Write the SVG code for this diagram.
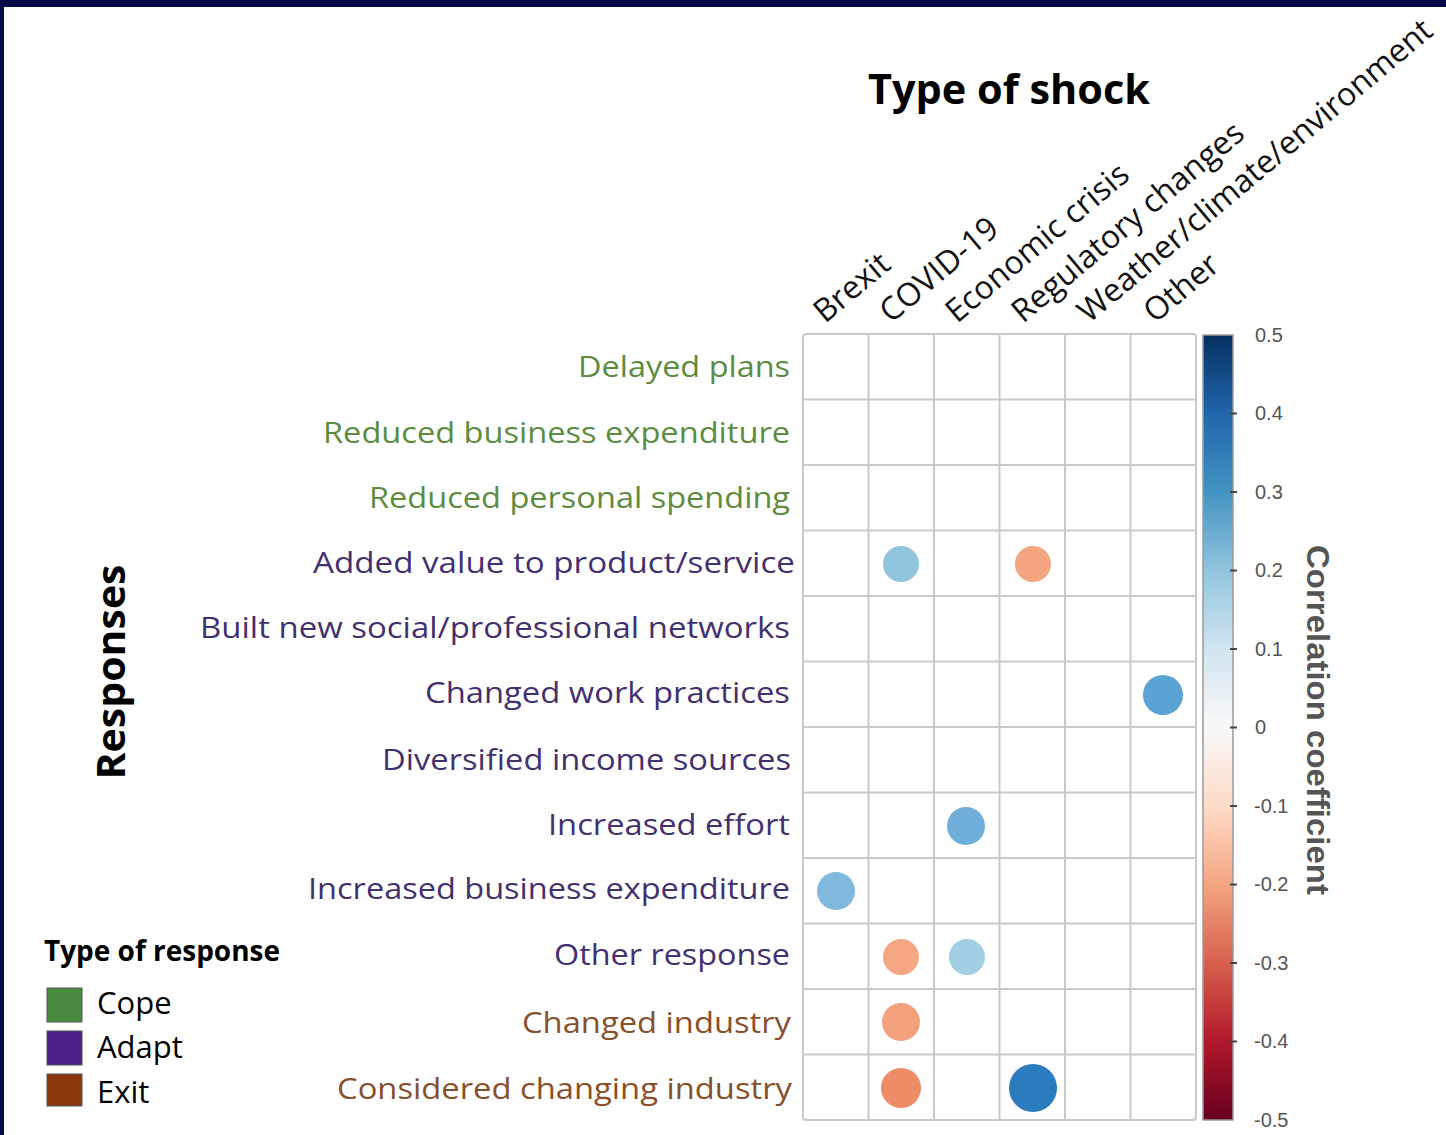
<svg xmlns="http://www.w3.org/2000/svg" width="1446" height="1135" viewBox="0 0 1446 1135">
<defs>
<linearGradient id="rdbu" x1="0" y1="0" x2="0" y2="1">
<stop offset="0" stop-color="#053061"/>
<stop offset="0.1" stop-color="#2166ac"/>
<stop offset="0.2" stop-color="#4393c3"/>
<stop offset="0.3" stop-color="#92c5de"/>
<stop offset="0.4" stop-color="#d1e5f0"/>
<stop offset="0.5" stop-color="#f9f9f9"/>
<stop offset="0.6" stop-color="#fddbc7"/>
<stop offset="0.7" stop-color="#f4a582"/>
<stop offset="0.8" stop-color="#d6604d"/>
<stop offset="0.9" stop-color="#b2182b"/>
<stop offset="1" stop-color="#67001f"/>
</linearGradient>
<style>
.lbl{font-family:"Open Sans","Liberation Sans",sans-serif;font-size:30px;text-anchor:end}
.cope{fill:#5b8c3f}
.adapt{fill:#43306f}
.exit{fill:#87502a}
.col{font-family:"Open Sans","Liberation Sans",sans-serif;font-size:32px;fill:#111}
.grid{stroke:#c9c9c9;stroke-width:2;fill:none}
.tick{font-family:"Liberation Sans",Arial,sans-serif;font-size:20px;fill:#555}
.tk{stroke:#444;stroke-width:2}
.ttl{font-family:"Open Sans","Liberation Sans",sans-serif;font-weight:bold;fill:#000}
.leg{font-family:"Open Sans","Liberation Sans",sans-serif;font-size:31px;fill:#000}
</style>
</defs>
<rect x="0" y="0" width="1446" height="1135" fill="#ffffff"/>
<rect x="0" y="0" width="1446" height="7" fill="#020a48"/>
<rect x="0" y="0" width="4" height="1135" fill="#020a48"/>

<g id="title"><text class="ttl" x="868" y="104" font-size="41" textLength="282" lengthAdjust="spacingAndGlyphs">Type of shock</text></g>
<g id="axis-responses"><text class="ttl" font-size="40" transform="translate(125,672) rotate(-90)" text-anchor="middle" textLength="215" lengthAdjust="spacingAndGlyphs">Responses</text></g>

<g id="column-labels">
<text class="col" transform="translate(825,324) rotate(-40)">Brexit</text>
<text class="col" transform="translate(891,324) rotate(-40)">COVID-19</text>
<text class="col" transform="translate(957,324) rotate(-40)">Economic crisis</text>
<text class="col" transform="translate(1023,324) rotate(-40)">Regulatory changes</text>
<text class="col" transform="translate(1089,324) rotate(-40)">Weather/climate/environment</text>
<text class="col" transform="translate(1155,324) rotate(-40)">Other</text>
</g>

<g id="row-labels">
<text class="lbl cope" x="790" y="377" textLength="212" lengthAdjust="spacingAndGlyphs">Delayed plans</text>
<text class="lbl cope" x="790" y="443" textLength="467" lengthAdjust="spacingAndGlyphs">Reduced business expenditure</text>
<text class="lbl cope" x="790" y="508" textLength="421" lengthAdjust="spacingAndGlyphs">Reduced personal spending</text>
<text class="lbl adapt" x="795" y="573" textLength="482" lengthAdjust="spacingAndGlyphs">Added value to product/service</text>
<text class="lbl adapt" x="790" y="638" textLength="590" lengthAdjust="spacingAndGlyphs">Built new social/professional networks</text>
<text class="lbl adapt" x="790" y="703" textLength="365" lengthAdjust="spacingAndGlyphs">Changed work practices</text>
<text class="lbl adapt" x="791" y="770" textLength="409" lengthAdjust="spacingAndGlyphs">Diversified income sources</text>
<text class="lbl adapt" x="790" y="835" textLength="242" lengthAdjust="spacingAndGlyphs">Increased effort</text>
<text class="lbl adapt" x="790" y="899" textLength="482" lengthAdjust="spacingAndGlyphs">Increased business expenditure</text>
<text class="lbl adapt" x="790" y="965" textLength="236" lengthAdjust="spacingAndGlyphs">Other response</text>
<text class="lbl exit" x="791" y="1033" textLength="269" lengthAdjust="spacingAndGlyphs">Changed industry</text>
<text class="lbl exit" x="792" y="1099" textLength="455" lengthAdjust="spacingAndGlyphs">Considered changing industry</text>
</g>

<g id="grid">
<rect class="grid" x="803" y="334" width="393" height="786" rx="3"/>
<path class="grid" d="M868.5 334V1120M934 334V1120M999.5 334V1120M1065 334V1120M1130.5 334V1120"/>
<path class="grid" d="M803 399.5H1196M803 465H1196M803 530.5H1196M803 596H1196M803 661.5H1196M803 727H1196M803 792.5H1196M803 858H1196M803 923.5H1196M803 989H1196M803 1054.5H1196"/>
</g>

<g id="circles">
<circle cx="901" cy="564" r="18" fill="#92c5de"/>
<circle cx="1033" cy="564" r="18" fill="#f4a582"/>
<circle cx="1163" cy="695" r="20" fill="#5aa4d5"/>
<circle cx="966" cy="826" r="19" fill="#6eaed8"/>
<circle cx="836" cy="891" r="19" fill="#80b9dd"/>
<circle cx="901" cy="957" r="18" fill="#f5a683"/>
<circle cx="967" cy="957" r="18" fill="#a3cfe6"/>
<circle cx="901" cy="1022" r="19" fill="#f3a07d"/>
<circle cx="901" cy="1088" r="20" fill="#ef8c68"/>
<circle cx="1033" cy="1088" r="24" fill="#2b7bbf"/>
</g>

<g id="colorbar">
<rect x="1203" y="335" width="30" height="785" fill="url(#rdbu)" stroke="#9a9a9a" stroke-width="1.5"/>
<path class="tk" d="M1230 413.5H1237M1230 492H1237M1230 570.5H1237M1230 649H1237M1230 727.5H1237M1230 806H1237M1230 884.5H1237M1230 963H1237M1230 1041.5H1237"/>
<text class="tick" x="1255" y="342">0.5</text>
<text class="tick" x="1255" y="420">0.4</text>
<text class="tick" x="1255" y="499">0.3</text>
<text class="tick" x="1255" y="577">0.2</text>
<text class="tick" x="1255" y="656">0.1</text>
<text class="tick" x="1255" y="734">0</text>
<text class="tick" x="1254" y="813">-0.1</text>
<text class="tick" x="1254" y="891">-0.2</text>
<text class="tick" x="1254" y="970">-0.3</text>
<text class="tick" x="1254" y="1048">-0.4</text>
<text class="tick" x="1254" y="1127">-0.5</text>
<text font-family="Liberation Sans,Arial,sans-serif" font-weight="bold" font-size="31" fill="#555" transform="translate(1307,720) rotate(90)" text-anchor="middle" textLength="350" lengthAdjust="spacingAndGlyphs">Correlation coefficient</text>
</g>

<g id="legend">
<text class="ttl" x="44" y="961" font-size="28" textLength="236" lengthAdjust="spacingAndGlyphs">Type of response</text>
<rect x="47" y="988" width="35" height="34" fill="#4a8a3e" stroke="#555" stroke-width="1"/>
<rect x="47" y="1031" width="35" height="34" fill="#4b1e8a" stroke="#555" stroke-width="1"/>
<rect x="47" y="1074" width="35" height="32" fill="#8b3a0f" stroke="#555" stroke-width="1"/>
<text class="leg" x="97" y="1014">Cope</text>
<text class="leg" x="97" y="1058">Adapt</text>
<text class="leg" x="97" y="1103">Exit</text>
</g>
</svg>
